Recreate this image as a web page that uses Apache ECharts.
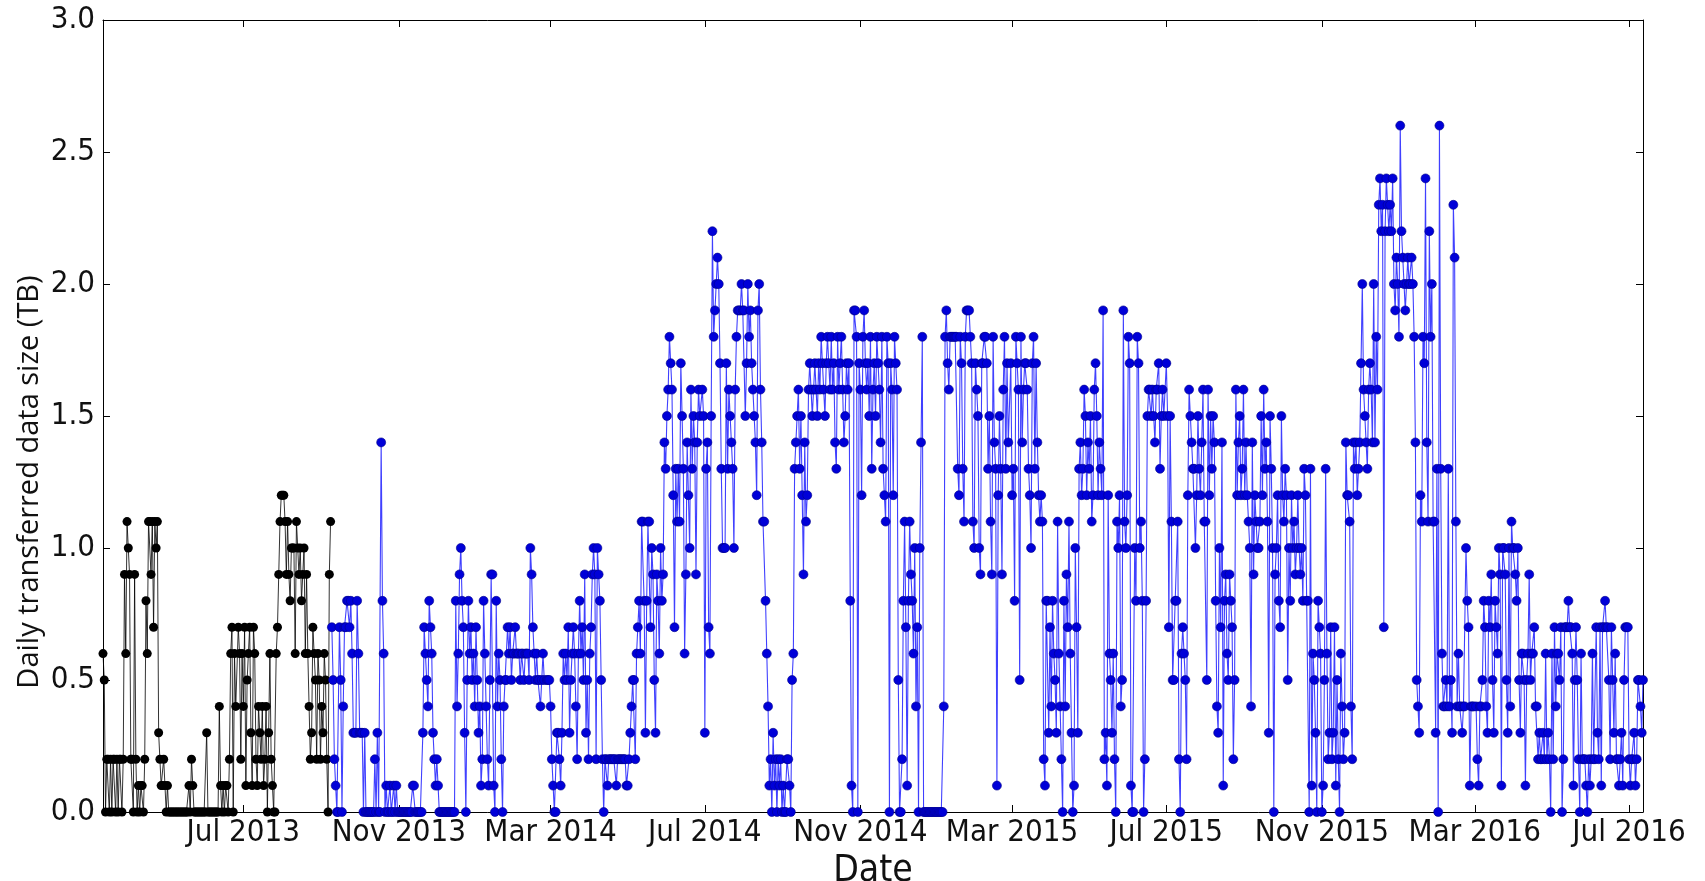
<!DOCTYPE html>
<html>
<head>
<meta charset="utf-8">
<title>Daily transferred data size</title>
<script src="https://cdn.jsdelivr.net/npm/echarts@6/dist/echarts.min.js"></script>
<style>
html, body { margin: 0; padding: 0; background: #fff; }
#main { width: 1705px; height: 881px; }
</style>
</head>
<body>
<div id="main"></div>
<script>
// values are tenths of a TB, one per day, starting at the given date

// first period (black)
var blackStartA = '2013-03-12';
var blackA = [6,5,0,2, 2,0,2,0,2,2,0,2,0,2,2,0,2, 9,6,11,10,9,2, 2,0,9,2,0, 1,0,1,1,0,2,
    8,6,11,11,9,11,7,11,10,11,3,2,1, 1,2,1,0,1,0,0, 0,0,0,0,0,0,0,0,0,0,0,0,0,0,
    1,0,2,1,0, 0,0,0,0,0,0,0,0,0, 3, 0,0,0,0,0,0,0,0,0, 4, 1,0,1,0,1,1,0, 2,6,7,0,6,4];
var blackStartB = '2013-06-27';
var blackB = [7,6,2,6,4,7,1,5,6,7, 3,1,7,6,2,1,4,3,2,4, 1,2,4,0,3,6,2,1,0,0,
    6,7,9,11,12,12,12,11,9,11,9,8,10,10,10,6,
    11,10,9,10,8,9,10,6,9,6, 4,2,3,7,6,5,2,6,5,2, 4,3,6,5,2,0,9,11];

// second period (blue)
var blueStartA = '2013-09-09';
var blueA = [7,5,2,1,0,0,7,5,0,4, 7,7,8,8,7,8,6,3,3,3, 8,6,3,3,3,0,3,0,0,0,
    0,0,0,0,2,0,3,0,0,14, 8,6,0,1,0,0,1,0,0];
var blueStartB = '2013-10-28';
var blueB = [1,0,1,0,0,0,0,0,0,0, 0,0,0,0,0,1,1,0,0,0, 0,0,0,
    3,7,6,5,4,8,7,6,3,2, 1,2,1,0,0,0,
    0,0,0,0,0,0,0,0,0,0,
    8,4,6,9,10,8,7,3,0,5,8,6,7,
    5,6,4,7,5,3,4,1,2,8, 6,4,2,1,5,9,9,1,0,8, 4,6,5,2,0,4,
    5,5,7,6,7,5,6,6,7,6, 6,6,5,6,6,5,6,6,6,5, 10,9,7,6,5,6,5,5,4,5, 6,5];
var blueStartC = '2014-02-26';
var blueC = [5,5,5,4,2,1,0,0,3,3,2,1,3,
    6,5,6,5,7,3,5,6,7,6, 4,2,6,8,6,7,5,9,3,5, 2,6,7,9,
    10,9,2,10,9,8,5,2,
    0,2,2,1,2,2,2,2,2,2, 1,2,2,2,2,2,2,2,
    1,1,2,3,4,5,5,2,6,7, 8,6,11,11,8,3,8,11,11,7, 10,9,5,3,9,8,6,10,8,9,
    14,13,15,16,18,17,16,12,7,13, 11,13,11,17,15,13,6,9,14,12, 10,16,13,15,14,9,14,16,15];
var blueStartD = '2014-06-29';
var blueD = [16,15,3,13,14,7,6,15,22,18, 19,20,21,20,17,13,10,10,10,17,
    13,16,15,14,13,10,16,18,19,19, 19,20,19,19,15,17,20,18,19,17,
    16,15,14,12,19,20,16,14,11,11, 8,6,4,1,2,0,3,1,2,0,
    2,1,2,0,1,0,0,2,2,1, 0,5,6,13,14,15,16,13,15,12,
    9,14,11,12,16,17,16,15,16,17, 16,15,17,16,18,17,16,15,17,18,
    17,16,18,16,17,14,13,18,16,17, 18,16,14,15,17,16,17,8,1,0, 19,19,18];
var blueStartE = '2014-10-30';
var blueE = [0,17,16,12,18,19,17,16,17,15, 18,13,16,17,15,18,17,16,14,18,
    13,12,11,18,17,0,17,16,12,18, 17,16,5,0,0,2,8,11,7,1,
    8,11,9,8,6,10,4,7,0,10, 14,18,0,0,0,0,0,0,0,0,
    0,0,0,0,0,0,0,0,4,18, 19,17,16,18,18,18,18,18,18,13,
    12,18,17,13,11,18,19,19,19,18, 17,11,10,17,16,15,10,9,17,17,
    18,18,17,13,15,11,9,18,14,13, 1,12,15,13,9,16,18,13,17,14];
var blueStartF = '2015-02-28';
var blueF = [17,12,13,8,18,17,16,5,18,14, 16,17,17,16,13,12,10,17,18,13,
    17,14,12,11,12,11,2,1,8,8, 3,7,4,8,6,5,3,11,6,4,
    2,0,8,4,9,7,11,6,3,0, 1,10,7,3,13,14,12,13,16,15,
    12,14,13,15,11,12,16,17,15,12, 14,13,12,19,2,3,1,12,6,5,
    3,6,2,0,11,10,12,4,5,19, 11,10,12,18,17,1,0,0,10,8,
    18,17,10,11,8,0,2,8,15,16, 16,15,16,15,14,16,16,17,13,15, 16,15];
var blueStartG = '2015-07-01';
var blueG = [17,15,7,15,11,5,5,8,8,11, 2,0,6,7,6,5,2,12,16,15,
    14,13,13,10,12,15,13,12,14,16, 11,11,5,16,12,15,13,15,14,8,
    4,3,10,7,14,1,8,9,6,5, 9,8,7,2,5,16,12,14,15,12,
    13,16,12,14,12,11,10,4,14,9, 12,11,10,10,11,15,12,16,13,14,
    11,3,15,13,10,0,9,10,12,8, 7,15,12,11,13,12,5,10,8,12,
    10,11,9,10,12,10,9,10,8,13, 12,8,8,0,13,1,6,5,3,0, 8,7,6];
var blueStartH = '2015-11-01';
var blueH = [0,1,5,13,6,2,3,7,2,3, 7,1,5,2,0,6,4,2,3,14,
    12,12,11,4,2,14,13,14,12,13, 14,17,20,16,15,14,13,16,17,16,
    14,20,14,18,16,23,24,22,23,7, 22,24,23,22,23,22,24,20,19,21,
    20,18,26,22,21,20,19,20,21,20, 20,21,20,18,14,5,4,3,12,11,
    18,17,24,14,11,22,18,20,11,11, 3,13,0,26,13,6,4,4,5,4,
    13,4,5,3,23,21,11,4,6,4, 4,3,4,4,10,8,7,1,4,4, 4];
var blueStartI = '2016-03-02';
var blueI = [4,2,1,4,4,5,8,7,4,3, 8,7,9,5,3,8,7,6,10,9,
    1,10,10,9,5,3,10,4,11,10, 10,9,8,10,5,3,6,6,5,1,
    5,6,9,5,6,6,7,4,4,2, 3,2,2,3,2,6,2,3,2,0,
    6,2,7,4,6,6,5,7,0,2, 7,7,7,8,7,7,6,1,5,7,
    5,2,0,6,2,2,2,1,0,2, 1,2,6,2,2,7,3,2,7,1,
    7,7,8,7,7,5,2,7,5,3, 6,2,2,1,2,3,1,5,7,7,
    7,2,1,2,2,3,1,2,5,5, 4,3,5];

var tickDates = ['2013-07-01', '2013-11-01', '2014-03-01', '2014-07-01', '2014-11-01',
    '2015-03-01', '2015-07-01', '2015-11-01', '2016-03-01', '2016-07-01'];
var tickLabels = ['Jul 2013', 'Nov 2013', 'Mar 2014', 'Jul 2014', 'Nov 2014',
    'Mar 2015', 'Jul 2015', 'Nov 2015', 'Mar 2016', 'Jul 2016'];

function toTime(s, plusDays) {
    var p = s.split('-');
    return new Date(+p[0], +p[1] - 1, +p[2] + (plusDays || 0)).getTime();
}

function daily(start, tenths) {
    return tenths.map(function (v, i) {
        return [toTime(start, i), v / 10];
    });
}

var blackData = daily(blackStartA, blackA).concat(daily(blackStartB, blackB));
var blueData = [].concat(
    daily(blueStartA, blueA), daily(blueStartB, blueB), daily(blueStartC, blueC),
    daily(blueStartD, blueD), daily(blueStartE, blueE), daily(blueStartF, blueF),
    daily(blueStartG, blueG), daily(blueStartH, blueH), daily(blueStartI, blueI)
);

var tickValues = tickDates.map(function (d) { return toTime(d); });
var xMin = blackData[0][0];
var xMax = blueData[blueData.length - 1][0];

var dom = document.getElementById('main');
var chart = echarts.init(dom, null, { renderer: 'canvas' });

var tickFont = "'DejaVu Sans Condensed', 'DejaVu Sans'";
var frame = { show: true, onZero: false, lineStyle: { color: '#000', width: 1 } };

function dateLabel(value) {
    var i = tickValues.indexOf(value);
    return i < 0 ? '' : tickLabels[i];
}

var option = {
    animation: false,
    backgroundColor: '#fff',
    grid: { left: 103, right: 62, top: 20, bottom: 69, containLabel: false, outerBoundsMode: 'none' },
    xAxis: [
        {
            type: 'value',
            min: xMin,
            max: xMax,
            scale: true,
            axisLine: frame,
            axisTick: { show: true, inside: true, length: 7, customValues: tickValues, lineStyle: { color: '#000' } },
            axisLabel: {
                customValues: tickValues,
                formatter: dateLabel,
                fontFamily: tickFont, fontSize: 31, color: '#111', margin: 5, hideOverlap: false
            },
            splitLine: { show: false },
            name: 'Date',
            nameLocation: 'middle',
            nameGap: 35,
            nameTextStyle: { fontFamily: tickFont, fontSize: 37, color: '#111' }
        },
        {
            type: 'value',
            position: 'top',
            min: xMin,
            max: xMax,
            scale: true,
            axisLine: frame,
            axisTick: { show: true, inside: true, length: 7, customValues: tickValues, lineStyle: { color: '#000' } },
            axisLabel: { show: false },
            splitLine: { show: false }
        }
    ],
    yAxis: [
        {
            type: 'value',
            min: 0,
            max: 3,
            interval: 0.5,
            axisLine: frame,
            axisTick: { show: true, inside: true, length: 7, lineStyle: { color: '#000' } },
            axisLabel: {
                formatter: function (v) { return v.toFixed(1); },
                fontFamily: tickFont, fontSize: 31, color: '#111', margin: 8
            },
            splitLine: { show: false }
        },
        {
            type: 'value',
            position: 'right',
            min: 0,
            max: 3,
            interval: 0.5,
            axisLine: frame,
            axisTick: { show: true, inside: true, length: 7, lineStyle: { color: '#000' } },
            axisLabel: { show: false },
            splitLine: { show: false }
        }
    ],
    graphic: [
        {
            type: 'text',
            x: 30,
            y: 482,
            rotation: Math.PI / 2,
            style: {
                text: 'Daily transferred data size (TB)',
                fontFamily: 'Open Sans',
                fontSize: 29,
                fill: '#111',
                align: 'center',
                verticalAlign: 'middle'
            }
        }
    ],
    series: [
        {
            name: 'black',
            type: 'line',
            data: blackData,
            symbol: 'circle',
            symbolSize: 9,
            showSymbol: true,
            lineStyle: { color: '#000', width: 1, opacity: 0.8 },
            itemStyle: { color: '#000' },
            clip: true
        },
        {
            name: 'blue',
            type: 'line',
            data: blueData,
            symbol: 'circle',
            symbolSize: 9,
            showSymbol: true,
            lineStyle: { color: '#0000ff', width: 1.1, opacity: 0.75 },
            itemStyle: { color: '#0000d8', borderColor: '#00008a', borderWidth: 0.6 },
            clip: true
        }
    ]
};

chart.setOption(option);
</script>
</body>
</html>
